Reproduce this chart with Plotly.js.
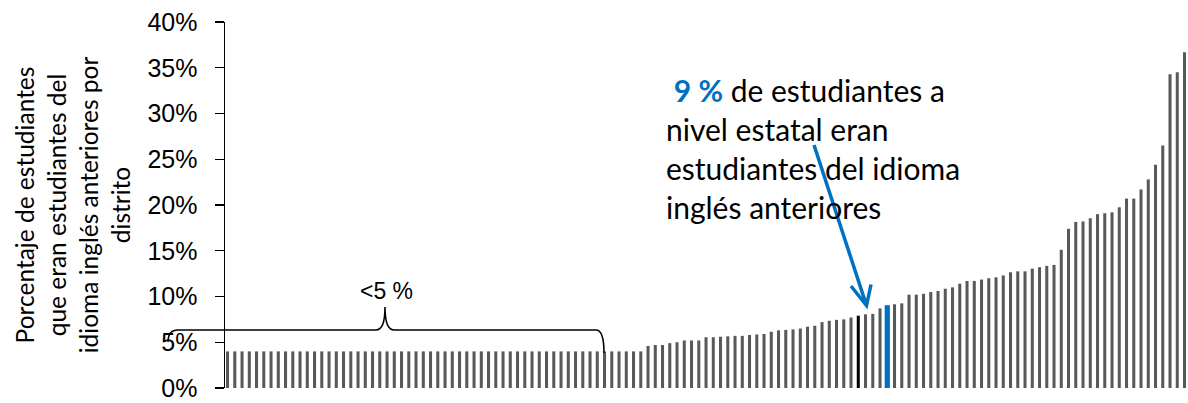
<!DOCTYPE html>
<html>
<head>
<meta charset="utf-8">
<script src="https://cdn.plot.ly/plotly-3.0.1.min.js"></script>
<style>html,body{margin:0;padding:0;background:#fff;}#chart{width:1188px;height:403px;}</style>
</head>
<body>
<div id="chart"></div>
<script>
// ---- data ----
const lowValues = new Array(58).fill(4.0); // districts with <5 % (shown at 4 %)
const otherValues = [
  4.6, 4.7, 4.7, 4.9, 5.0, 5.2, 5.2, 5.2, 5.55, 5.55, 5.6, 5.65, 5.7, 5.7, 5.8, 5.85, 5.9, 6.15, 6.3, 6.35, 6.4, 6.5,
  6.7, 6.8, 7.2, 7.35, 7.45, 7.5, 7.7, 7.9, 8.05, 8.1, 8.7, 9.05, 9.15, 9.25, 10.2, 10.2, 10.3, 10.5, 10.6, 10.85, 11.0, 11.4, 11.7, 11.7,
  11.85, 12.0, 12.1, 12.3, 12.65, 12.75, 12.75, 13.05, 13.2, 13.35, 13.45, 15.1, 17.4, 18.15, 18.2, 18.55, 19.0, 19.1, 19.2, 19.75,
  20.7, 20.7, 21.7, 22.8, 24.4, 26.5, 34.3, 34.5, 36.7
];
const values = lowValues.concat(otherValues);
const districts = values.map((v, i) => i);
const highlightDistrict = 87;   // black bar
const stateDistrict = 91;       // blue bar (state level)
const yTickVals = [0, 5, 10, 15, 20, 25, 30, 35, 40];
const yTickText = ["0%", "5%", "10%", "15%", "20%", "25%", "30%", "35%", "40%"];

const colors = districts.map(i => i === stateDistrict ? '#0070C0' : (i === highlightDistrict ? '#000000' : '#595959'));
const widths = districts.map(i => i === stateDistrict ? 0.72 : 0.42);

// ---- layout helpers (pixel -> paper) ----
const W = 1188, H = 403, ML = 225, MR = 0, MT = 22, MB = 15;
const PW = W - ML - MR, PH = H - MT - MB;
const px = x => (x - ML) / PW;
const py = y => (H - MB - y) / PH;

const brace = `M ${px(168)},${py(342)} Q ${px(168)},${py(330)} ${px(178)},${py(330)} L ${px(376)},${py(330)} Q ${px(385)},${py(330)} ${px(385)},${py(307)} Q ${px(385)},${py(330)} ${px(394)},${py(330)} L ${px(596)},${py(330)} Q ${px(604)},${py(330)} ${px(604)},${py(353)}`;
const arrowHead = `M ${px(851)},${py(286)} L ${px(866.5)},${py(305.5)} L ${px(871)},${py(284.5)}`;

const trace = {
  type: 'bar',
  x: districts,
  y: values,
  width: widths,
  marker: {color: colors, line: {width: 0}},
  hoverinfo: 'skip'
};

const layout = {
  width: W, height: H,
  margin: {l: ML, r: MR, t: MT, b: MB, pad: 0},
  paper_bgcolor: '#ffffff', plot_bgcolor: '#ffffff',
  showlegend: false,
  xaxis: {range: [-0.35, 132.48], showticklabels: false, showgrid: false, zeroline: false, showline: false, ticks: ''},
  yaxis: {
    range: [0, 40], tickvals: yTickVals, ticktext: yTickText,
    showgrid: false, zeroline: false, showline: true, linecolor: '#000', linewidth: 1.5,
    ticks: 'outside', ticklen: 9, tickwidth: 1.3, tickcolor: '#000',
    ticklabelstandoff: 12,
    ticklabeloverflow: 'allow',
    tickfont: {family: 'Liberation Sans, Arial, sans-serif', size: 25, color: '#000'},
    title: {
      text: 'Porcentaje de estudiantes<br>que eran estudiantes del<br>idioma inglés anteriores por<br>distrito',
      font: {family: 'Lato, sans-serif', size: 24.5, color: '#000'},
      standoff: 10
    }
  },
  shapes: [
    {type: 'path', xref: 'paper', yref: 'paper', path: brace, line: {color: '#000', width: 1.6}},
    {type: 'line', xref: 'paper', yref: 'paper', x0: px(814), y0: py(145), x1: px(866), y1: py(304), line: {color: '#0070C0', width: 3.5}},
    {type: 'path', xref: 'paper', yref: 'paper', path: arrowHead, line: {color: '#0070C0', width: 3.5}}
  ],
  annotations: [
    {xref: 'paper', yref: 'paper', x: px(386), y: py(291), xanchor: 'center', yanchor: 'middle', showarrow: false,
     text: '&lt;5 %', font: {family: 'Liberation Sans, Arial, sans-serif', size: 23, color: '#000'}},
    {xref: 'paper', yref: 'paper', x: px(664), y: py(148), xanchor: 'left', yanchor: 'middle', align: 'left', showarrow: false,
     text: '\u00a0<b><span style="color:#0070C0">9 %</span></b> de estudiantes a<br>nivel estatal eran<br>estudiantes del idioma<br>inglés anteriores',
     font: {family: 'Lato, sans-serif', size: 30, color: '#000'}}
  ]
};

Plotly.newPlot('chart', [trace], layout, {displayModeBar: false, staticPlot: true});
</script>
</body>
</html>
